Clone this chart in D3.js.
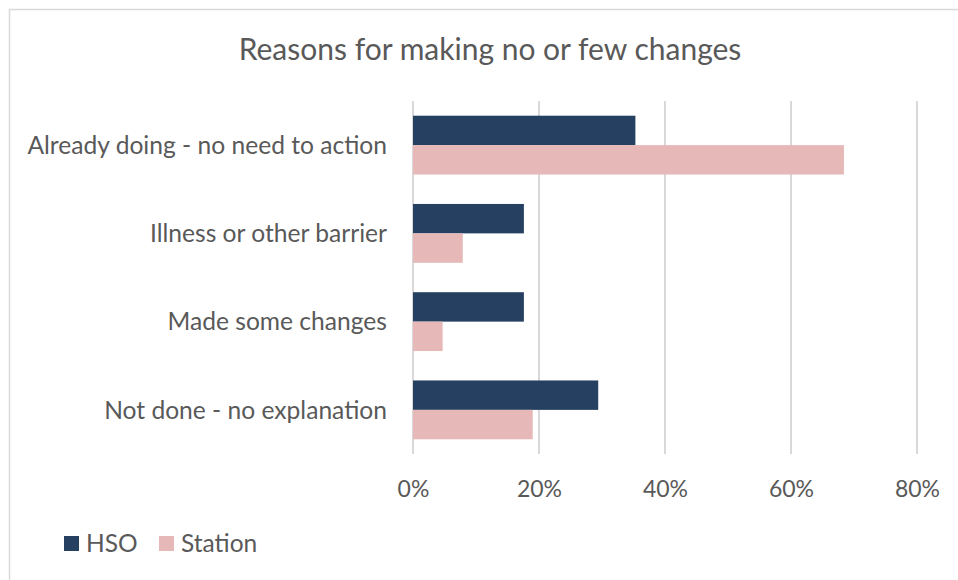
<!DOCTYPE html>
<html>
<head>
<meta charset="utf-8">
<script src="https://cdn.jsdelivr.net/npm/d3@7"></script>
<style>
  html, body { margin: 0; padding: 0; background: #fff; }
  svg { display: block; }
  text { font-family: Lato, "Open Sans", sans-serif; fill: #595959; }
</style>
</head>
<body>
<svg id="chart" width="958" height="580"></svg>
<script>
// Survey responses: share of each group giving each reason
const categories = [
  "Already doing - no need to action",
  "Illness or other barrier",
  "Made some changes",
  "Not done - no explanation"
];
const seriesNames = ["HSO", "Station"];
const hsoValues = [0.353, 0.176, 0.176, 0.294];
const stationValues = [0.684, 0.079, 0.047, 0.19];
const tickValues = [0, 0.2, 0.4, 0.6, 0.8];
const colors = ["#254061", "#E6B8B7"];
const title = "Reasons for making no or few changes";

const seriesValues = [hsoValues, stationValues];
const rows = categories.map((c, i) => ({
  category: c,
  values: seriesNames.map((s, j) => ({ series: s, value: seriesValues[j][i], color: colors[j] }))
}));

const svg = d3.select("#chart");

// Chart frame
svg.append("rect")
  .attr("x", 9.5).attr("y", 9.5)
  .attr("width", 1200).attr("height", 1200)
  .attr("fill", "none").attr("stroke", "#d9d9d9").attr("stroke-width", 1.5);

const plot = { left: 413, right: 917, top: 101, bottom: 454 };

const x = d3.scaleLinear().domain([0, 0.8]).range([plot.left, plot.right]);
const y = d3.scaleBand().domain(categories).range([plot.top, plot.bottom]).padding(0);
const ySub = d3.scaleBand().domain(seriesNames)
  .range([y.bandwidth() / 6, y.bandwidth() * 5 / 6]).padding(0);

// Title
svg.append("text")
  .attr("x", 490).attr("y", 60)
  .attr("text-anchor", "middle")
  .style("font-size", "30px")
  .text(title);

// Vertical gridlines
svg.append("g")
  .selectAll("line")
  .data(tickValues)
  .join("line")
  .attr("x1", d => x(d)).attr("x2", d => x(d))
  .attr("y1", plot.top).attr("y2", plot.bottom)
  .attr("stroke", "#d9d9d9").attr("stroke-width", 2);

// Bars
const groups = svg.append("g")
  .selectAll("g")
  .data(rows)
  .join("g")
  .attr("transform", d => `translate(0,${y(d.category)})`);

groups.selectAll("rect")
  .data(d => d.values)
  .join("rect")
  .attr("x", x(0))
  .attr("y", d => ySub(d.series))
  .attr("width", d => x(d.value) - x(0))
  .attr("height", ySub.bandwidth())
  .attr("fill", d => d.color);

// X axis tick labels
const xAxis = d3.axisBottom(x)
  .tickValues(tickValues)
  .tickFormat(d3.format(".0%"))
  .tickSize(0)
  .tickPadding(0);
const gx = svg.append("g")
  .attr("transform", `translate(0,${plot.bottom})`)
  .call(xAxis);
gx.select(".domain").remove();
gx.selectAll("text")
  .attr("y", 35)
  .attr("dy", "0.35em")
  .style("font-size", "23px")
  .style("font-family", "Lato, 'Open Sans', sans-serif")
  .attr("fill", "#595959");

// Category labels
const yAxis = d3.axisLeft(y).tickSize(0).tickPadding(0);
const gy = svg.append("g")
  .attr("transform", `translate(387,0)`)
  .call(yAxis);
gy.select(".domain").remove();
gy.selectAll("text")
  .attr("dy", "0.35em")
  .style("font-size", "24.6px")
  .style("font-family", "Lato, 'Open Sans', sans-serif")
  .attr("fill", "#595959");

// Legend
const legendPos = [{ sx: 64, tx: 86 }, { sx: 159, tx: 181 }];
const legend = svg.append("g")
  .selectAll("g")
  .data(seriesNames)
  .join("g");
legend.append("rect")
  .attr("x", (d, i) => legendPos[i].sx)
  .attr("y", 536)
  .attr("width", 15).attr("height", 15)
  .attr("fill", (d, i) => colors[i]);
legend.append("text")
  .attr("x", (d, i) => legendPos[i].tx)
  .attr("y", 543.5)
  .attr("dy", "0.35em")
  .style("font-size", "24.5px")
  .text(d => d);
</script>
</body>
</html>
